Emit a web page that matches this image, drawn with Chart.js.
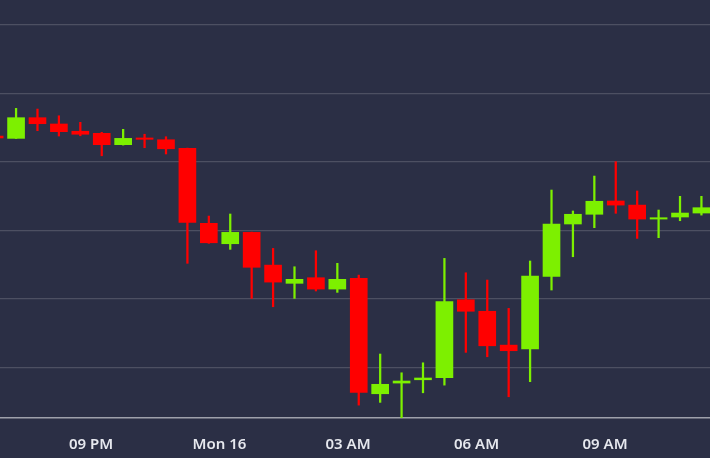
<!DOCTYPE html>
<html><head><meta charset="utf-8">
<script src="https://cdn.jsdelivr.net/npm/chart.js@4"></script>
<style>html,body{margin:0;padding:0;background:#2b2f45;}#w{width:710px;height:458px;}</style>
</head><body><div id="w"><canvas id="c"></canvas></div>
<script>
// time in minutes relative to 9 PM (candle centre of 30-min candles)
const times = [-135,-105,-75,-45,-15,15,45,75,105,135,165,195,225,255,285,315,345,375,405,435,465,495,525,555,585,615,645,675,705,735,765,795,825,855];
const opens  = [6568.7,6567,6582.1,6577.5,6572.2,6570.7,6562.4,6567.3,6566,6559.7,6505,6490.1,6498.4,6474.5,6461.2,6465.3,6457,6464.8,6380.6,6388.4,6390.8,6392.3,6449.2,6440.8,6416.1,6413.4,6466.3,6504.5,6511.6,6521.3,6518.3,6508.1,6509.6,6512.5];
const highs  = [6570.9,6588.9,6588.4,6583.5,6578.7,6571.4,6573.6,6570,6568.2,6559.9,6510.3,6511.8,6498.6,6486.7,6473.3,6485,6475.8,6467.2,6409.6,6395.9,6403.2,6479.4,6468.9,6463.6,6442.9,6477.5,6529.3,6514,6539.5,6550,6528.6,6514.7,6524.7,6524.7];
const lows   = [6566.5,6566.9,6572.6,6568.7,6568.9,6554.3,6562.1,6560.2,6555.6,6475.8,6490.4,6486,6450.2,6444.1,6450.2,6455.6,6454.6,6372.3,6374.3,6363.1,6381.3,6386.9,6410.8,6407.6,6378.4,6389.4,6456.3,6480.6,6501.8,6512.3,6494,6494.5,6506.9,6511];
const closes = [6567.3,6582.1,6577.7,6571.9,6570,6562.4,6567,6566.3,6559.4,6505.7,6490.8,6498.4,6472.9,6462.1,6464.1,6457,6464.1,6381.6,6387.5,6389.9,6392.1,6447.8,6440.8,6415.6,6412,6466.5,6504.5,6511.6,6521.1,6518.3,6508.1,6509.1,6512.5,6516.4];
const tickTimes = [0,180,360,540,720];
const tickLabels = ['09 PM','Mon 16','03 AM','06 AM','09 AM'];
const gridValues = [6400,6450,6500,6550,6600,6650];

const GREEN='#7df000', RED='#ff0000';
const cols = opens.map((o,i)=> closes[i]>=o ? GREEN : RED);
const bodies = times.map((t,i)=>{let a=opens[i],b=closes[i];if(Math.abs(a-b)<1){const m=(a+b)/2;a=m-0.6;b=m+0.6;}return {x:t,y:[a,b]};});
const wicks = times.map((t,i)=>({x:t,y:[lows[i],highs[i]]}));

new Chart(document.getElementById('c'),{
  type:'bar',
  data:{datasets:[
    {data:wicks,backgroundColor:cols,barThickness:1.6,grouped:false,order:2},
    {data:bodies,backgroundColor:cols,barThickness:17,grouped:false,order:1}
  ]},
  options:{
    responsive:true,maintainAspectRatio:false,animation:false,
    layout:{padding:0},
    plugins:{legend:{display:false},tooltip:{enabled:false}},
    scales:{
      x:{type:'linear',min:-127.5,max:867,offset:false,
        grid:{display:false},
        border:{display:true,color:'rgba(255,255,255,0.55)',width:1.5},
        afterBuildTicks:(s)=>{s.ticks=tickTimes.map(v=>({value:v}));},
        afterFit:(s)=>{s.height=40;},
        ticks:{color:'#e6e8ee',padding:10,maxRotation:0,autoSkip:false,font:{family:'Noto Sans',size:15,weight:'600'},
          callback:(v)=>{const i=tickTimes.indexOf(v);return i>=0?tickLabels[i]:'';}}
      },
      y:{min:6362.9,max:6668,
        grid:{color:'rgba(255,255,255,0.16)',lineWidth:1.2,drawTicks:false},
        border:{display:false},
        afterBuildTicks:(s)=>{s.ticks=gridValues.map(v=>({value:v}));},
        afterFit:(s)=>{s.width=0;},
        ticks:{display:false}
      }
    }
  }
});
</script></body></html>
